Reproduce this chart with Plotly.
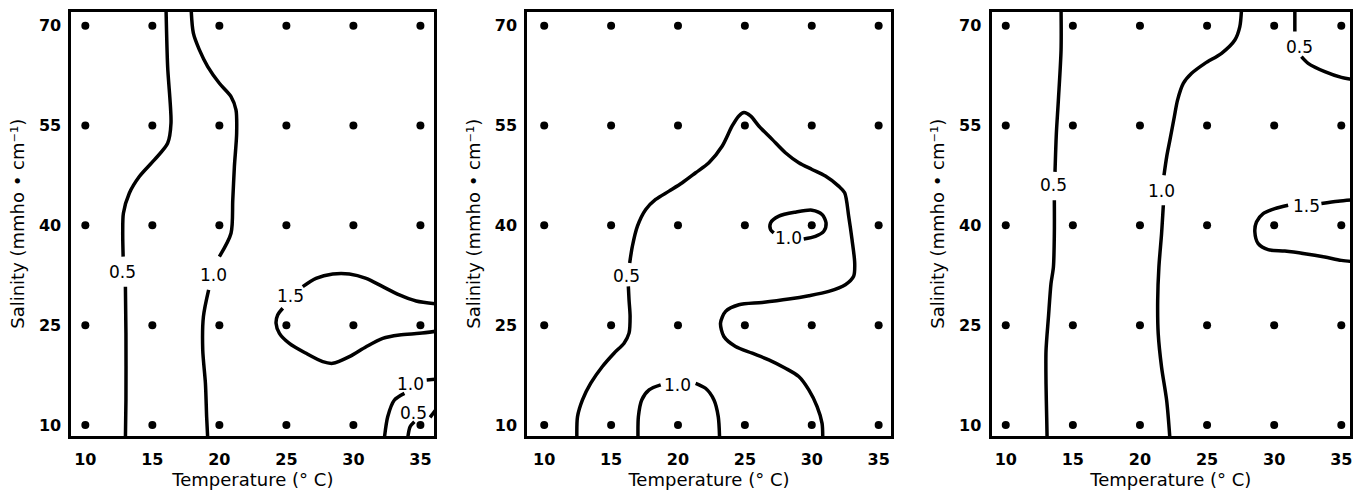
import plotly.graph_objects as go

# ---------------- data ----------------
temps = [10, 15, 20, 25, 30, 35]
salinity = [10, 25, 40, 55, 70]
x_ticktext = ["10", "15", "20", "25", "30", "35"]
y_ticktext = ["10", "25", "40", "55", "70"]

# Panel 1 isolines (traced, None = gap for label)
p1_c05_x = [16.02, 16.14, 16.39, 16.14, 15.15, 14.03, 13.28, 12.84, 12.79, 12.82, None, 12.99, 13.03, 13.03, 12.99]
p1_c05_y = [72.6, 63.86, 55.34, 52.33, 49.83, 47.33, 44.82, 41.81, 38.81, 35.3, None, 30.79, 23.78, 13.76, 8.0]
p1_c10_x = [17.89, 18.06, 18.51, 19.13, 20.0, 20.87, 21.24, 21.29, 21.12, 21.0, 20.87, 20.0, None, 19.2, 18.81, 18.76, 18.96, 19.05, 19.13]
p1_c10_y = [72.6, 68.87, 66.36, 63.86, 61.35, 59.35, 57.34, 53.84, 48.83, 43.82, 38.81, 35.3, None, 30.29, 26.28, 21.27, 16.26, 11.25, 8.0]
p1_c15_x = [26.22, 27.21, 28.46, 29.70, 30.95, 32.19, 33.43, 34.68, 36.2, None,
            36.2, 34.93, 33.43, 32.19, 30.95, 29.70, 28.46, 27.71, 26.47, 25.22, 24.48, 24.23, 24.35, 24.73]
p1_c15_y = [30.79, 32.04, 32.70, 32.70, 32.04, 30.79, 29.54, 28.64, 28.2, None,
            24.1, 23.78, 23.53, 23.03, 21.77, 20.27, 19.27, 19.52, 20.77, 22.27, 23.78, 25.28, 26.53, 27.54]
p1_c10b_x = [32.31, 32.56, 33.06, 33.81, None, 35.47, 36.2]
p1_c10b_y = [8.0, 11.25, 13.76, 14.76, None, 16.76, 16.9]
p1_c05b_x = [34.05, 34.23, 34.55, None, 35.72, 36.2]
p1_c05b_y = [8.0, 9.75, 10.5, None, 11.15, 12.4]
p1_labels = ["0.5", "1.0", "1.5", "1.0", "0.5"]
p1_label_x = [12.79, 19.55, 25.27, 34.23, 34.48]
p1_label_y = [33.05, 32.55, 29.44, 16.16, 11.75]

# Panel 2 isolines
p2_c05_x = [12.44, 12.49, 12.86, 13.48, 14.35, 15.22, 15.97, 16.34, 16.42, 16.34, 16.29, None,
            16.39, 16.59, 16.97, 17.59, 18.33, 19.33, 20.32, 21.32, 22.31, 23.31, 24.05, 24.55, 24.93,
            25.42, 26.04, 27.04, 28.03, 29.03, 30.02, 31.02, 32.01, 32.46, 32.76, 33.01, 33.21, 33.13,
            32.51, 31.27, 29.78, 28.28, 26.29, 24.55, 23.56, 23.18, 23.43, 24.30, 25.55, 26.79, 28.03,
            29.03, 29.78, 30.40, 30.77, 30.82]
p2_c05_y = [8.0, 11.26, 13.77, 16.28, 18.79, 20.79, 22.30, 23.80, 26.32, 28.83, 30.83, None,
            34.35, 36.86, 39.87, 42.38, 43.89, 45.14, 46.40, 47.90, 49.41, 51.92, 54.93, 56.44, 56.94,
            56.44, 54.93, 52.92, 50.91, 49.41, 48.40, 47.40, 45.89, 44.89, 41.38, 37.86, 34.35, 32.34,
            31.08, 30.08, 29.43, 28.93, 28.42, 28.07, 27.07, 25.31, 23.30, 21.80, 20.79, 19.79, 18.53,
            17.28, 15.27, 12.76, 10.25, 8.0]
p2_c10_x = [17.01, 17.04, 17.29, 17.84, 18.71, None, 21.32, 22.06, 22.69, 23.01, 23.11]
p2_c10_y = [8.0, 11.26, 13.77, 15.27, 16.02, None, 16.27, 15.52, 13.77, 11.26, 8.0]
p2_c10b_x = [29.40, 30.27, 30.90, 31.07, 30.77, 30.02, 28.78, 27.54, 26.92, 26.92, 27.16]
p2_c10b_y = [37.96, 38.36, 39.12, 40.37, 41.63, 42.28, 41.98, 41.38, 40.37, 39.37, 38.87]
p2_labels = ["0.5", "1.0", "1.0"]
p2_label_x = [16.17, 19.95, 28.28]
p2_label_y = [32.44, 16.02, 38.11]

# Panel 3 isolines
p3_c05_x = [14.12, 14.12, 13.92, 13.77, 13.67, None, 13.62, 13.62, 13.55, 13.37, 13.18, 13.00, 13.00, 13.05, 13.08]
p3_c05_y = [72.6, 66.35, 58.82, 53.80, 48.03, None, 43.77, 38.75, 33.73, 31.22, 26.21, 21.19, 16.17, 11.15, 8.0]
p3_c10_x = [27.57, 27.44, 27.07, 26.08, 24.84, 23.85, 23.23, 22.80, 22.56, 22.23, 21.99, 21.79, None,
            21.74, 21.61, 21.41, 21.32, 21.36, 21.61, 21.99, 22.23]
p3_c10_y = [72.6, 69.86, 67.85, 65.85, 64.34, 62.84, 61.33, 58.82, 56.31, 52.80, 50.29, 47.53, None,
            43.02, 38.75, 33.73, 28.72, 23.70, 18.68, 13.66, 8.0]
p3_c05b_x = [31.54, 31.54, None, 32.03, 32.53, 33.77, 35.01, 36.2]
p3_c05b_y = [72.6, 69.11, None, 65.34, 64.34, 63.09, 62.23, 61.8]
p3_c15_x = [36.2, 34.76, 33.52, None, 31.04, 30.05, 29.18, 28.68, 28.56, 28.81, 29.55, 30.79, 32.28, 33.77, 35.01, 36.2]
p3_c15_y = [43.87, 43.62, 43.27, None, 43.02, 42.51, 41.76, 40.51, 39.00, 37.25, 36.34, 36.14, 35.74, 35.24, 34.74, 34.49]
p3_labels = ["0.5", "1.0", "0.5", "1.5"]
p3_label_x = [13.55, 21.61, 31.91, 32.41]
p3_label_y = [46.03, 45.17, 66.85, 42.87]

# ---------------- figure ----------------
W, H = 1356, 494
FONT = "DejaVu Sans"
panels = [
    dict(lines=[(p1_c05_x, p1_c05_y), (p1_c10_x, p1_c10_y), (p1_c15_x, p1_c15_y),
                (p1_c10b_x, p1_c10b_y), (p1_c05b_x, p1_c05b_y)],
         labels=(p1_labels, p1_label_x, p1_label_y),
         xpx=(71.5, 435), xr=[8.96, 36.04]),
    dict(lines=[(p2_c05_x, p2_c05_y), (p2_c10_x, p2_c10_y), (p2_c10b_x, p2_c10b_y)],
         labels=(p2_labels, p2_label_x, p2_label_y),
         xpx=(528, 892), xr=[8.73, 35.9]),
    dict(lines=[(p3_c05_x, p3_c05_y), (p3_c10_x, p3_c10_y), (p3_c05b_x, p3_c05b_y),
                (p3_c15_x, p3_c15_y)],
         labels=(p3_labels, p3_label_x, p3_label_y),
         xpx=(993, 1352), xr=[8.94, 35.65]),
]

fig = go.Figure()
layout = dict(
    width=W, height=H,
    margin=dict(l=0, r=0, t=0, b=0),
    paper_bgcolor="white", plot_bgcolor="white",
    showlegend=False,
    font=dict(family=FONT, color="black", size=16),
    annotations=[],
)
ydom = [1 - 436 / H, 1 - 11.5 / H]

gx = [t for s in salinity for t in temps]
gy = [s for s in salinity for t in temps]

for i, p in enumerate(panels, start=1):
    xa = "x" if i == 1 else f"x{i}"
    ya = "y" if i == 1 else f"y{i}"
    for lx, ly in p["lines"]:
        fig.add_trace(go.Scatter(
            x=lx, y=ly, mode="lines", xaxis=xa, yaxis=ya,
            line=dict(color="black", width=3.5, shape="spline", smoothing=0.8),
            connectgaps=False, hoverinfo="skip"))
    fig.add_trace(go.Scatter(
        x=gx, y=gy, mode="markers", xaxis=xa, yaxis=ya,
        marker=dict(color="black", size=8), hoverinfo="skip"))
    txt, tx, ty = p["labels"]
    for t, x, y in zip(txt, tx, ty):
        layout["annotations"].append(dict(
            x=x, y=y, xref=xa, yref=ya, text=t, showarrow=False,
            font=dict(family=FONT, size=17, color="black")))
    axis_common = dict(showline=True, mirror=True, linecolor="black", linewidth=3,
                       showgrid=False, zeroline=False, ticks="",
                       tickfont=dict(family=FONT, size=16, color="black", weight="bold"))
    layout["xaxis" if i == 1 else f"xaxis{i}"] = dict(
        axis_common, domain=[p["xpx"][0] / W, p["xpx"][1] / W], range=p["xr"],
        anchor=ya, tickvals=temps, ticktext=x_ticktext, ticklabelstandoff=7,
        title=dict(text="Temperature (° C)", font=dict(family=FONT, size=18, color="black"), standoff=5))
    layout["yaxis" if i == 1 else f"yaxis{i}"] = dict(
        axis_common, domain=ydom, range=[8.35, 72.13],
        anchor=xa, tickvals=salinity, ticktext=y_ticktext, ticklabelstandoff=4,
        title=dict(text="Salinity (mmho • cm⁻¹)", font=dict(family=FONT, size=18, color="black"), standoff=10))

fig.update_layout(**layout)
fig.write_html("out.html")
